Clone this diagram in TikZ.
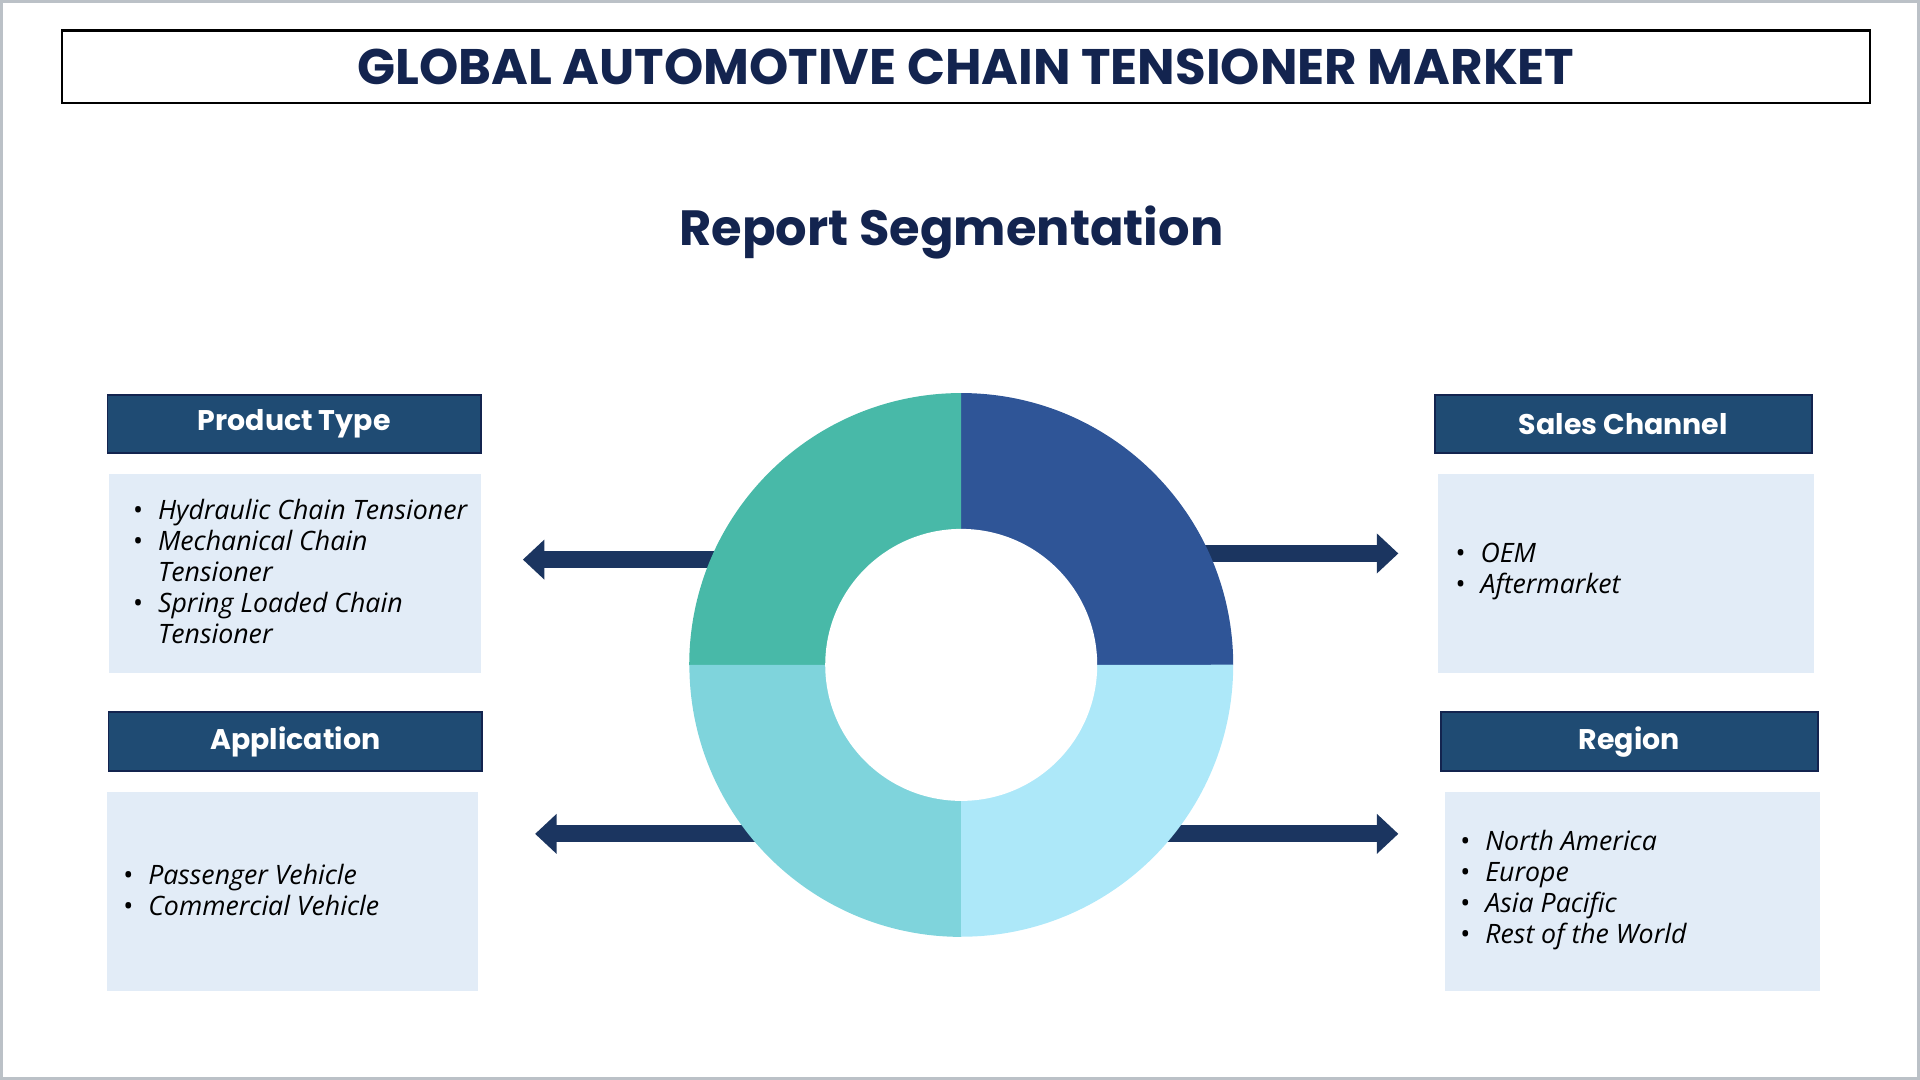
\documentclass[tikz,border=0pt]{standalone}
\usepackage{fontspec}
\setmainfont{Open Sans}
\newfontfamily\headfont{Poppins}
\usepackage{tikz}
\usetikzlibrary{arrows.meta}
\definecolor{navy}{HTML}{13244F}
\definecolor{headblue}{HTML}{1F4B73}
\definecolor{paleblue}{HTML}{E2ECF7}
\definecolor{arrowblue}{HTML}{1B3560}
\definecolor{qone}{HTML}{2F5597}
\definecolor{qtwo}{HTML}{48B9A8}
\definecolor{qthree}{HTML}{7FD4DC}
\definecolor{qfour}{HTML}{ADE8F9}
\tikzset{
  headbox/.style={draw=navy, fill=headblue, text=white, font=\headfont\fontsize{6.6}{8}\selectfont\bfseries, anchor=north west, inner sep=0pt},
  listbox/.style={fill=paleblue, anchor=north west, inner sep=0pt},
  listtext/.style={align=left, anchor=west, font=\fontsize{6.2}{7.2}\selectfont\itshape, inner sep=0pt},
  segarrow/.style={draw=arrowblue, line width=4pt, -{Triangle[length=5pt,width=9pt]}},
}
\newcommand{\bul}{\makebox[5.8pt][l]{\upshape\textbullet}}
\begin{document}
\begin{tikzpicture}[x=0.01cm, y=-0.01cm]
\useasboundingbox (0,0) rectangle (1568,882);
\draw[draw=paleblue!60!gray, line width=0.6pt] (1,1) rectangle (1567,881);
% title
\node[draw=black, line width=0.5pt, minimum width=1476*0.01cm, minimum height=59*0.01cm, anchor=north west, inner sep=0pt,
  font=\headfont\fontsize{11.6}{12}\selectfont\bfseries, text=navy] (title) at (50,24) {GLOBAL AUTOMOTIVE CHAIN TENSIONER MARKET};
\node[font=\headfont\fontsize{11.5}{13}\selectfont\bfseries, text=navy] (report) at (777,190) {Report Segmentation};
% arrows behind the donut
\coordinate (ptend) at (427,457);
\coordinate (scend) at (1142,452);
\coordinate (apend) at (437,681);
\coordinate (rgend) at (1142,681);
\draw[segarrow] (785,457) -- (ptend);
\draw[segarrow] (785,452) -- (scend);
\draw[segarrow] (785,681) -- (apend);
\draw[segarrow] (785,681) -- (rgend);
% donut
\coordinate (ctr) at (785,543);
\fill[qone] (ctr) -- (785,321) arc[start angle=90, end angle=0, radius=2.22cm] -- cycle;
\fill[qtwo] (ctr) -- (785,321) arc[start angle=90, end angle=180, radius=2.22cm] -- cycle;
\fill[qthree] (ctr) -- (563,543) arc[start angle=180, end angle=270, radius=2.22cm] -- cycle;
\fill[qfour] (ctr) -- (785,765) arc[start angle=270, end angle=360, radius=2.22cm] -- cycle;
\fill[white] (ctr) circle[radius=1.11cm];
% segment boxes
\node[headbox, minimum width=305*0.01cm, minimum height=47*0.01cm] (pthead) at (87,322) {Product Type};
\node[listbox, minimum width=304*0.01cm, minimum height=163*0.01cm] (ptbox) at (88,386) {};
\node[listtext] (ptlist) at (108,467) {\bul Hydraulic Chain Tensioner\\\bul Mechanical Chain\\\hspace*{5.8pt}Tensioner\\\bul Spring Loaded Chain\\\hspace*{5.8pt}Tensioner};
\node[headbox, minimum width=305*0.01cm, minimum height=48*0.01cm] (aphead) at (88,581) {Application};
\node[listbox, minimum width=303*0.01cm, minimum height=163*0.01cm] (apbox) at (87,646) {};
\node[listtext] (aplist) at (100,727) {\bul Passenger Vehicle\\\bul Commercial Vehicle};
\node[headbox, minimum width=308*0.01cm, minimum height=47*0.01cm] (schead) at (1171,322) {Sales Channel};
\node[listbox, minimum width=307*0.01cm, minimum height=163*0.01cm] (scbox) at (1174,386) {};
\node[listtext] (sclist) at (1188,467) {\bul OEM\\\bul Aftermarket};
\node[headbox, minimum width=308*0.01cm, minimum height=48*0.01cm] (rghead) at (1176,581) {Region};
\node[listbox, minimum width=307*0.01cm, minimum height=163*0.01cm] (rgbox) at (1179,646) {};
\node[listtext] (rglist) at (1192,727) {\bul North America\\\bul Europe\\\bul Asia Pacific\\\bul Rest of the World};
\end{tikzpicture}
\end{document}
